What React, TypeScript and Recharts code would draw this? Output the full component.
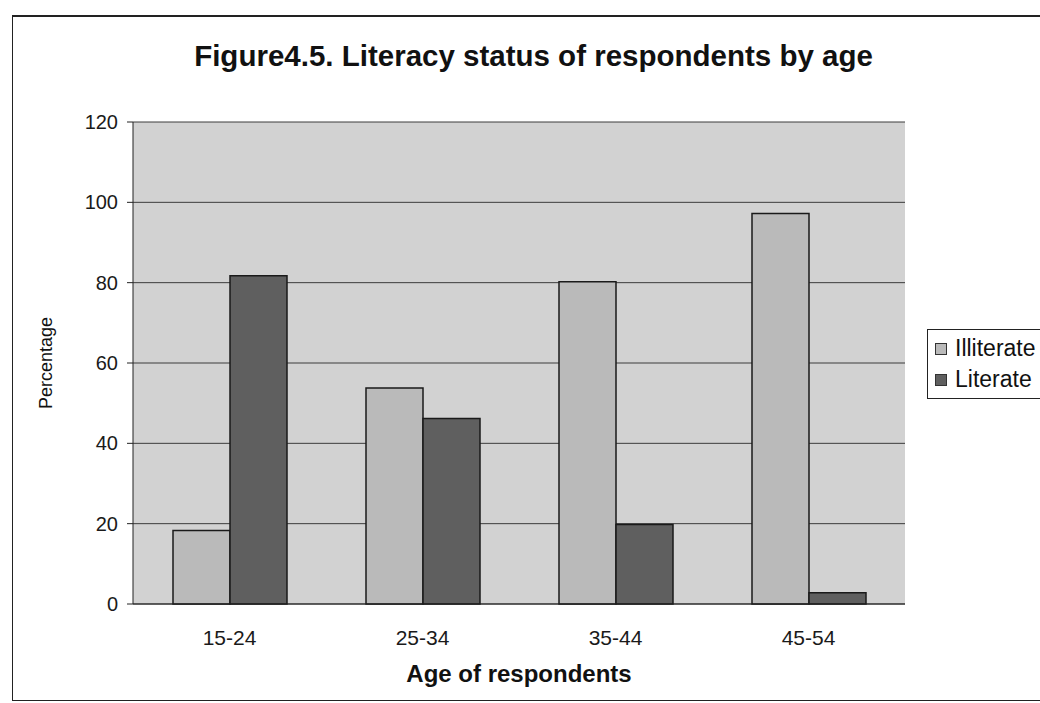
import { BarChart, Bar, XAxis, YAxis, CartesianGrid, Legend } from "recharts";

// age groups and percentages per literacy status
const ageGroups = ["15-24", "25-34", "35-44", "45-54"];
const illiterate = [18.3, 53.8, 80.2, 97.2];
const literate = [81.7, 46.2, 19.8, 2.8];
const yTicks = [0, 20, 40, 60, 80, 100, 120];

const series = [
  { key: "illiterate", name: "Illiterate", fill: "#bababa" },
  { key: "literate", name: "Literate", fill: "#5f5f5f" },
];

const data = ageGroups.map((age, i) => ({
  age,
  illiterate: illiterate[i],
  literate: literate[i],
}));

const font = "'Liberation Sans', Arial, sans-serif";

function LegendBox() {
  return (
    <div
      style={{
        border: "1px solid #222",
        background: "#fff",
        padding: "3px 20px 3px 7px",
        fontFamily: font,
        fontSize: 23,
        color: "#111",
        lineHeight: "31px",
      }}
    >
      {series.map((s) => (
        <div key={s.key} style={{ display: "flex", alignItems: "center", whiteSpace: "nowrap" }}>
          <span
            style={{
              display: "inline-block",
              width: 10,
              height: 10,
              background: s.fill,
              border: "1px solid #333",
              marginRight: 8,
            }}
          />
          {s.name}
        </div>
      ))}
    </div>
  );
}

export default function App() {
  return (
    <div style={{ position: "absolute", left: 0, top: 0, width: 1040, height: 703, background: "#fff", overflow: "hidden" }}>
      {/* outer frame */}
      <div
        style={{
          position: "absolute",
          left: 12,
          top: 15,
          width: 1060,
          height: 683,
          borderTop: "2px solid #222",
          borderLeft: "1.5px solid #222",
          borderBottom: "1.5px solid #222",
        }}
      />
      <div
        style={{
          position: "absolute",
          left: 0,
          width: 1067,
          top: 40,
          textAlign: "center",
          fontFamily: font,
          fontWeight: "bold",
          fontSize: 29.5,
          lineHeight: "32px",
          color: "#111",
        }}
      >
        Figure4.5. Literacy status of respondents by age
      </div>
      <BarChart
        width={1040}
        height={703}
        data={data}
        margin={{ top: 122, right: 135, left: 0, bottom: 19 }}
        barCategoryGap={40}
        barGap={0}
        style={{ position: "absolute", left: 0, top: 0 }}
      >
        <CartesianGrid vertical={false} stroke="#3c3c3c" fill="#d2d2d2" fillOpacity={1} />
        <XAxis
          dataKey="age"
          height={80}
          axisLine={{ stroke: "#222" }}
          tickLine={false}
          tickSize={0}
          tickMargin={26}
          tick={{ fontSize: 21, fill: "#1a1a1a", fontFamily: font }}
          label={{
            value: "Age of respondents",
            position: "insideBottom",
            offset: 2,
            style: { fontSize: 24, fontWeight: "bold", fill: "#111", fontFamily: font },
          }}
        />
        <YAxis
          width={133}
          domain={[0, 120]}
          ticks={yTicks}
          interval={0}
          axisLine={{ stroke: "#222" }}
          tickLine={{ stroke: "#222" }}
          tickSize={6}
          tickMargin={9}
          tick={{ fontSize: 20, fill: "#1a1a1a", fontFamily: font }}
          label={{
            value: "Percentage",
            angle: -90,
            position: "insideLeft",
            offset: 46,
            style: { textAnchor: "middle", fontSize: 18, fill: "#111", fontFamily: font },
          }}
        />
        <YAxis
          yAxisId="right"
          orientation="right"
          width={0}
          domain={[0, 120]}
          tick={false}
          tickLine={false}
          axisLine={{ stroke: "#777" }}
        />
        <Legend
          layout="vertical"
          align="center"
          verticalAlign="middle"
          content={() => <LegendBox />}
          wrapperStyle={{ left: 927, top: 329, width: "auto" }}
        />
        {series.map((s) => (
          <Bar
            key={s.key}
            dataKey={s.key}
            name={s.name}
            fill={s.fill}
            stroke="#1a1a1a"
            strokeWidth={1.5}
            isAnimationActive={false}
          />
        ))}
      </BarChart>
    </div>
  );
}
